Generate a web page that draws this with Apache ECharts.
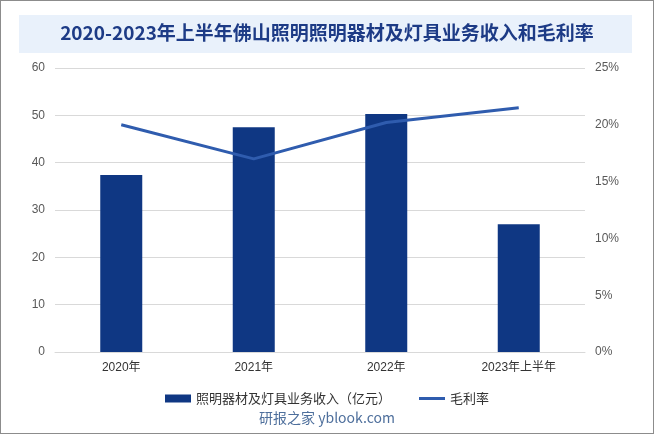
<!DOCTYPE html>
<html>
<head>
<meta charset="utf-8">
<script src="https://cdn.jsdelivr.net/npm/echarts@6/dist/echarts.min.js"></script>
<style>
  html, body { margin: 0; padding: 0; background: #fff; }
  #chart { width: 652px; height: 432px; border: 1px solid #8c8c8c; }
</style>
</head>
<body>
<div id="chart"></div>
<script>
const categories = ['2020年', '2021年', '2022年', '2023年上半年']
const revenue = [37.4, 47.5, 50.3, 27.0]
const margin = [20.0, 17.0, 20.2, 21.5]
const leftTicks = { min: 0, max: 60, interval: 10 }
const rightTicks = { min: 0, max: 25, interval: 5 }

const chart = echarts.init(document.getElementById('chart'))

const option = {
  animation: false,
  textStyle: { fontFamily: 'Arial, "Liberation Sans", "Noto Sans CJK SC", sans-serif' },
  graphic: [
    {
      type: 'rect',
      left: 18, top: 14,
      shape: { width: 613, height: 38 },
      style: { fill: '#e9f1fb' }
    },
    {
      type: 'text',
      left: 'center', top: 22,
      style: {
        text: '2020-2023年上半年佛山照明照明器材及灯具业务收入和毛利率',
        fill: '#1d3b86',
        font: 'bold 19px "Noto Sans CJK SC", sans-serif'
      }
    },
    {
      type: 'text',
      left: 'center', top: 410,
      style: {
        text: '研报之家 yblook.com',
        fill: '#4e6f9c',
        font: '14px "Noto Sans CJK SC", sans-serif'
      }
    }
  ],
  legend: {
    top: 386,
    left: 'center',
    itemGap: 28,
    itemWidth: 26,
    itemHeight: 8,
    textStyle: { fontSize: 13, color: '#333', fontFamily: '"Noto Sans CJK SC", sans-serif' },
    data: [
      { name: '照明器材及灯具业务收入（亿元）', icon: 'rect' },
      { name: '毛利率', icon: 'path://M0,0h26v3h-26z' }
    ]
  },
  grid: { left: 54, right: 68, top: 67, bottom: 81, containLabel: false },
  xAxis: {
    type: 'category',
    data: categories,
    axisTick: { show: false },
    axisLine: { lineStyle: { color: '#d9d9d9' } },
    axisLabel: { color: '#333', fontSize: 12, margin: 10 }
  },
  yAxis: [
    {
      type: 'value',
      min: leftTicks.min, max: leftTicks.max, interval: leftTicks.interval,
      axisLabel: { color: '#595959', fontSize: 12, margin: 10 },
      splitLine: { lineStyle: { color: '#d9d9d9' } }
    },
    {
      type: 'value',
      min: rightTicks.min, max: rightTicks.max, interval: rightTicks.interval,
      axisLabel: { color: '#595959', fontSize: 12, margin: 10, formatter: '{value}%' },
      splitLine: { show: false }
    }
  ],
  series: [
    {
      name: '照明器材及灯具业务收入（亿元）',
      type: 'bar',
      data: revenue,
      barWidth: 42,
      itemStyle: { color: '#0f3783' }
    },
    {
      name: '毛利率',
      type: 'line',
      yAxisIndex: 1,
      data: margin,
      symbol: 'none',
      lineStyle: { color: '#2f5cae', width: 3 },
      itemStyle: { color: '#2f5cae' }
    }
  ]
}

chart.setOption(option)
window.addEventListener('resize', () => chart.resize())
</script>
</body>
</html>
